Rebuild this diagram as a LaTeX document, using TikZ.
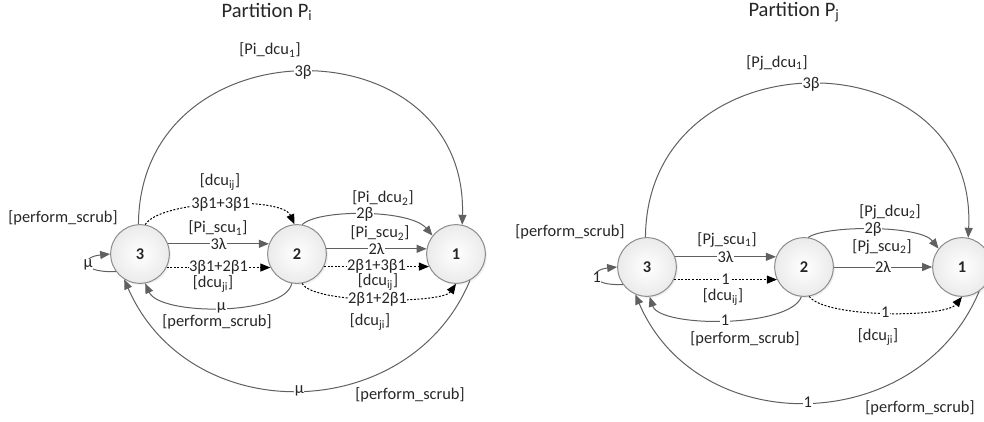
\documentclass[tikz,border=0pt]{standalone}
\usepackage{fontspec}
\setmainfont{Carlito}
\usetikzlibrary{arrows.meta}
\usetikzlibrary{shadows}
\definecolor{edgegray}{HTML}{606060}
\definecolor{rimgray}{HTML}{8C8C8C}

\begin{document}
\begin{tikzpicture}[x=0.75pt, y=-0.75pt, font=\fontsize{12.3}{14}\selectfont]
		\tikzset{vertex/.style={shape = circle, draw = rimgray, line width = 0.75pt, inner color = white, outer color = gray!16, minimum size = 44pt, inner sep = 0pt, font = \fontsize{12.3}{14}\selectfont\bfseries, text = black!85, drop shadow = {opacity = 0.12, shadow xshift = 1.2pt, shadow yshift = -1.2pt}}}
		\tikzset{edge/.style={draw = edgegray, line width = 0.75pt, -{Triangle[length = 7.5pt, width = 6pt]}}}
		\tikzset{dotedge/.style={draw = black, line width = 0.75pt, dash pattern = on 1.5pt off 1.2pt, -{Triangle[length = 7.5pt, width = 6pt]}}}
		\tikzset{rate/.style={fill = white, inner sep = 0.4pt, text = black!85}}
		\tikzset{tag/.style={inner sep = 0pt, text = black!85}}
		\tikzset{title/.style={inner sep = 0pt, text = black!85, font = \fontsize{15.4}{18}\selectfont}}
					\useasboundingbox (0,0) rectangle (984,421);
					%partition i
					\node[title] (ttlI) at (267, 12) {Partition P\textsubscript{i}};
					\node[vertex] (i3) at (140, 254) {3};
					\node[vertex] (i2) at (297, 254) {2};
					\node[vertex] (i1) at (456, 254) {1};
					%edges of partition i
					\draw[edge] (i3.93) .. controls (140, 21) and (468, 21) .. node[rate, midway] (i31b) {3β} (i1.78);
					\node[tag] (i31t) at (270, 50) {[Pi\_dcu\textsubscript{1}]};
					\draw[dotedge] (i3.80) .. controls (160, 200) and (282, 196) .. node[rate, midway] (i32d) {3β1+3β1} (i2.95);
					\node[tag] (i32dt) at (220, 182) {[dcu\textsubscript{ij}]};
					\draw[edge] (i3.20) -- node[rate] (i32s) {3λ} (i2.160);
					\node[tag] (i32st) at (218, 228) {[Pi\_scu\textsubscript{1}]};
					\draw[dotedge] (i3.-27) -- node[rate] (i32e) {3β1+2β1} (i2.207);
					\node[tag] (i32et) at (213, 284) {[dcu\textsubscript{ji}]};
					\draw[edge] (i2.-100) .. controls (285, 316) and (160, 316) .. node[rate, midway] (i23m) {μ} (i3.-80);
					\node[tag] (i23mt) at (217, 322) {[perform\_scrub]};
					\draw[edge] (i3.216) .. controls (80, 273) and (80, 257) .. node[rate, midway] (i33m) {μ} (i3.180);
					\node[tag] (i33mt) at (63, 218) {[perform\_scrub]};
					\draw[edge] (i1.-62) .. controls (410, 425) and (190, 430) .. node[rate, midway] (i13m) {μ} (i3.-122);
					\node[tag] (i13mt) at (410, 395) {[perform\_scrub]};
					\draw[edge] (i2.80) .. controls (318, 209) and (410, 209) .. node[rate, midway] (i21b) {2β} (i1.142);
					\node[tag] (i21bt) at (383, 198) {[Pi\_dcu\textsubscript{2}]};
					\draw[edge] (i2.10) -- node[rate] (i21s) {2λ} (i1.170);
					\node[tag] (i21st) at (380, 233) {[Pi\_scu\textsubscript{2}]};
					\draw[dotedge] (i2.-25) -- node[rate] (i21d) {2β1+3β1} (i1.205);
					\node[tag] (i21dt) at (378, 282) {[dcu\textsubscript{ij}]};
					\draw[dotedge] (i2.-80) .. controls (312, 304) and (442, 304) .. node[rate, midway] (i21e) {2β1+2β1} (i1.-90);
					\node[tag] (i21et) at (370, 322) {[dcu\textsubscript{ji}]};
					%partition j
					\node[title] (ttlJ) at (794, 12) {Partition P\textsubscript{j}};
					\node[vertex] (j3) at (647, 267) {3};
					\node[vertex] (j2) at (804, 267) {2};
					\node[vertex] (j1) at (962, 267) {1};
					%edges of partition j
					\draw[edge] (j3.93) .. controls (647, 33) and (978, 33) .. node[rate, midway] (j31b) {3β} (j1.78);
					\node[tag] (j31t) at (777, 63) {[Pj\_dcu\textsubscript{1}]};
					\draw[edge] (j3.216) .. controls (589, 286) and (589, 270) .. node[rate, midway] (j33m) {1} (j3.180);
					\node[tag] (j33mt) at (570, 232) {[perform\_scrub]};
					\draw[edge] (j3.20) -- node[rate] (j32s) {3λ} (j2.160);
					\node[tag] (j32st) at (727, 240) {[Pj\_scu\textsubscript{1}]};
					\draw[dotedge] (j3.-25) -- node[rate] (j32d) {1} (j2.205);
					\node[tag] (j32dt) at (723, 297) {[dcu\textsubscript{ij}]};
					\draw[edge] (j2.-95) .. controls (790, 328) and (660, 328) .. node[rate, midway] (j23m) {1} (j3.-85);
					\node[tag] (j23mt) at (745, 339) {[perform\_scrub]};
					\draw[edge] (j2.82) .. controls (826, 225) and (920, 225) .. node[rate, midway] (j21b) {2β} (j1.142);
					\node[tag] (j21bt) at (890, 212) {[Pj\_dcu\textsubscript{2}]};
					\draw[edge] (j2.east) -- node[rate] (j21s) {2λ} (j1.west);
					\node[tag] (j21st) at (882, 247) {[Pj\_scu\textsubscript{2}]};
					\draw[dotedge] (j2.-80) .. controls (825, 318) and (945, 318) .. node[rate, midway] (j21e) {1} (j1.-90);
					\node[tag] (j21et) at (878, 337) {[dcu\textsubscript{ji}]};
					\draw[edge] (j1.-55) .. controls (918, 437) and (698, 441) .. node[rate, midway] (j13m) {1} (j3.-113);
					\node[tag] (j13mt) at (920, 408) {[perform\_scrub]};
					
					\end{tikzpicture}
\end{document}
